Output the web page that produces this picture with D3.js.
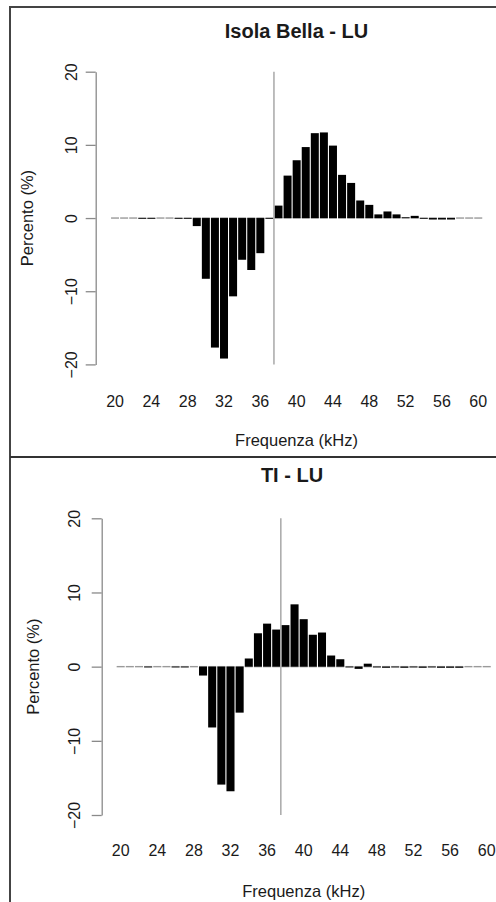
<!DOCTYPE html>
<html>
<head>
<meta charset="utf-8">
<script src="https://cdn.jsdelivr.net/npm/d3@7"></script>
<style>
  html, body { margin: 0; padding: 0; background: #fff; }
  svg { display: block; }
  text { font-family: "Liberation Sans", Arial, sans-serif; fill: #1a1a1a; }
</style>
</head>
<body>
<svg id="chart" width="496" height="902"></svg>
<script>
// ---- DATA ----
const frequencies = [20,21,22,23,24,25,26,27,28,29,30,31,32,33,34,35,36,37,38,39,40,
                     41,42,43,44,45,46,47,48,49,50,51,52,53,54,55,56,57,58,59,60];
const tickFreqs = [20,24,28,32,36,40,44,48,52,56,60];
const yTicks = [-20,-10,0,10,20];
const titles = ["Isola Bella - LU", "TI - LU"];
const xTitle = "Frequenza (kHz)";
const yTitle = "Percento (%)";
const markerFreq = 37.5;

const isolaBellaLU = [0,0,0,-0.1,-0.1,0,0,-0.1,-0.1,-1.1,-8.3,-17.7,-19.2,-10.7,-5.7,-7.1,-4.8,-0.1,
                      1.7,5.8,7.9,9.7,11.6,11.7,9.9,5.9,4.8,2.4,1.8,0.5,0.9,0.5,0.1,0.3,-0.1,-0.2,-0.2,-0.2,0,0,0];
const tiLU = [0,0,0,-0.1,0,0,-0.1,-0.1,0,-1.2,-8.2,-15.9,-16.8,-6.2,1.1,4.5,5.8,5.0,5.6,8.4,6.4,
              4.3,4.6,1.5,1.0,-0.1,-0.3,0.4,-0.1,-0.15,-0.1,-0.15,-0.1,-0.15,-0.1,-0.15,-0.15,-0.15,0,0,0];

// ---- LAYOUT ----
const svg = d3.select("#chart");

// frame
svg.append("line").attr("x1",10).attr("x2",496).attr("y1",7).attr("y2",7)
   .attr("stroke","#444").attr("stroke-width",2);
svg.append("line").attr("x1",10).attr("x2",10).attr("y1",6).attr("y2",902)
   .attr("stroke","#444").attr("stroke-width",2);
svg.append("line").attr("x1",10).attr("x2",496).attr("y1",457).attr("y2",457)
   .attr("stroke","#333").attr("stroke-width",2.2);

const panels = [
  { values: isolaBellaLU, title: titles[0], xRange: [110.5, 482.8], yRange: [364.4, 71.7],
    axisX: 95.7, tickLabelX: -19, titleY: 37.5, titleX: 296.5, mainX: 296.5, xLabY: 406.5, xTitleY: 446, yTitleX: 32.7 },
  { values: tiLU, title: titles[1], xRange: [116.1, 491.3], yRange: [815, 518.3],
    axisX: 101.7, tickLabelX: -21.5, titleY: 481.5, titleX: 303.7, mainX: 292, xLabY: 856, xTitleY: 896.5, yTitleX: 38.5 }
];

panels.forEach(p => {
  const g = svg.append("g");
  const x = d3.scaleBand().domain(frequencies).range(p.xRange).paddingInner(0.12).paddingOuter(0.06);
  const xc = f => x(f) + x.bandwidth() / 2;
  const y = d3.scaleLinear().domain([-20, 20]).range(p.yRange);
  const step = x.step();

  // zero dashes per bar
  g.selectAll("line.zero").data(frequencies).join("line")
    .attr("class","zero")
    .attr("x1", f => x(f)).attr("x2", f => x(f) + x.bandwidth())
    .attr("y1", y(0)).attr("y2", y(0))
    .attr("stroke", "#9a9a9a").attr("stroke-width", 1.4);

  // bars
  g.selectAll("rect.bar").data(p.values.map((v, i) => ({f: frequencies[i], v})))
    .join("rect")
    .attr("class","bar")
    .attr("x", d => x(d.f))
    .attr("width", x.bandwidth())
    .attr("y", d => Math.min(y(d.v), y(0)))
    .attr("height", d => Math.abs(y(d.v) - y(0)))
    .attr("fill", "#000");

  // vertical marker line (between 37 and 38 kHz)
  const mx = xc(37) + (markerFreq - 37) * step;
  g.append("line")
    .attr("x1", mx).attr("x2", mx).attr("y1", y(20)).attr("y2", y(-20))
    .attr("stroke", "#a8a8a8").attr("stroke-width", 1.5);

  // y axis
  const yAxis = d3.axisLeft(y).tickValues(yTicks).tickSize(10).tickSizeOuter(0).tickFormat(d3.format("d"));
  const ya = g.append("g").attr("transform", `translate(${p.axisX},0)`).call(yAxis);
  ya.select(".domain").attr("stroke", "#8a8a8a").attr("stroke-width", 1.3);
  ya.selectAll(".tick line").attr("stroke", "#8a8a8a").attr("stroke-width", 1.3);
  ya.selectAll(".tick text")
    .attr("transform", "rotate(-90)")
    .attr("x", 0).attr("y", p.tickLabelX).attr("dy", 0)
    .attr("text-anchor", "middle")
    .style("font-family", '"Liberation Sans", Arial, sans-serif')
    .style("font-size", "16px").attr("fill", "#1a1a1a");

  // x tick labels
  g.selectAll("text.xlab").data(tickFreqs).join("text")
    .attr("class","xlab")
    .attr("x", f => xc(f)).attr("y", p.xLabY)
    .attr("text-anchor","middle").style("font-size","16px")
    .text(d => d);

  // axis titles
  g.append("text").attr("x", p.titleX).attr("y", p.xTitleY)
    .attr("text-anchor","middle").style("font-size","16.5px").text(xTitle);
  g.append("text")
    .attr("transform", `translate(${p.yTitleX},${y(0)}) rotate(-90)`)
    .attr("text-anchor","middle").style("font-size","16.5px").text(yTitle);

  // title
  g.append("text").attr("x", p.mainX).attr("y", p.titleY)
    .attr("text-anchor","middle").style("font-size","20px").style("font-weight","bold")
    .text(p.title);
});
</script>
</body>
</html>
